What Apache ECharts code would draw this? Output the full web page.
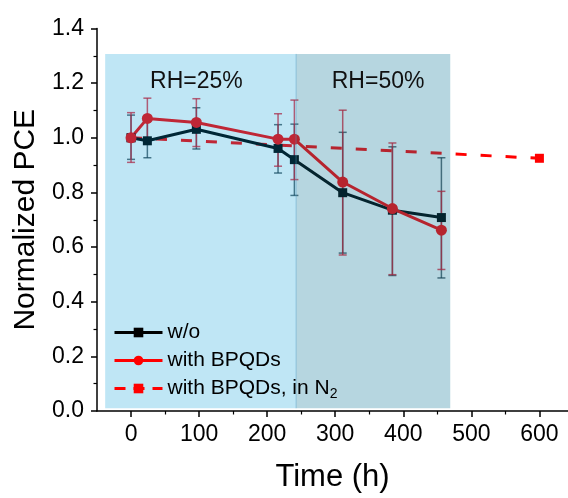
<!DOCTYPE html>
<html><head><meta charset="utf-8">
<script src="https://cdn.jsdelivr.net/npm/echarts@6/dist/echarts.min.js"></script>
<style>html,body{margin:0;padding:0;background:#fff}#c{width:568px;height:498px}</style>
</head><body><div id="c"></div>
<script>
// ---- data ----
const timeW = [0, 24, 96, 216, 240, 311, 384, 456];
const pceW = [1.0, 0.989, 1.031, 0.961, 0.920, 0.799, 0.735, 0.708];
const errLowW = [0.921, 0.927, 0.959, 0.871, 0.789, 0.578, 0.496, 0.487];
const errHighW = [1.083, 1.061, 1.110, 1.048, 1.050, 1.020, 0.967, 0.927];

const timeQD = [0, 24, 96, 216, 240, 311, 384, 456];
const pceQD = [1.0, 1.071, 1.056, 0.995, 0.995, 0.838, 0.741, 0.662];
const errLowQD = [0.910, 0.997, 0.968, 0.896, 0.847, 0.571, 0.499, 0.518];
const errHighQD = [1.092, 1.145, 1.143, 1.088, 1.138, 1.101, 0.981, 0.804];

const timeN2 = [0, 600];
const pceN2 = [1.0, 0.925];

const bandStart = [-38, 242.5];
const bandEnd = [242.5, 469];
const bandLabels = ['RH=25%', 'RH=50%'];

const seriesNames = ['w/o', 'with BPQDs', 'with BPQDs, in N2'];
const xMajorTicks = [0, 100, 200, 300, 400, 500, 600];
const xMinorTicks = [50, 150, 250, 350, 450, 550];

// ---- styling / layout ----
const FONT = 'Liberation Sans, Arial, sans-serif';
const bandTop = 1.307, bandBottom = 0.01;
const bandLabelX = [96, 363], bandLabelY = 1.207;
const bandFill = ['rgba(0,155,215,0.25)', 'rgba(12,118,152,0.30)'];

function pairs(xs, ys) { return xs.map((x, i) => [x, ys[i]]); }
function errData(xs, lo, hi) { return xs.map((x, i) => [x, lo[i], hi[i]]); }

function errSeries(xs, lo, hi, color) {
  return {
    type: 'custom', z: 2, silent: true,
    encode: { x: 0, y: [1, 2] },
    data: errData(xs, lo, hi),
    renderItem: function (params, api) {
      const x = api.value(0);
      const pl = api.coord([x, api.value(1)]);
      const ph = api.coord([x, api.value(2)]);
      const w = 4;
      const st = { stroke: color, lineWidth: 1.5 };
      return {
        type: 'group', children: [
          { type: 'line', shape: { x1: pl[0], y1: pl[1], x2: ph[0], y2: ph[1] }, style: st },
          { type: 'line', shape: { x1: pl[0] - w, y1: pl[1], x2: pl[0] + w, y2: pl[1] }, style: st },
          { type: 'line', shape: { x1: ph[0] - w, y1: ph[1], x2: ph[0] + w, y2: ph[1] }, style: st }
        ]
      };
    }
  };
}

const chart = echarts.init(document.getElementById('c'), null, { renderer: 'canvas' });
const option = {
  animation: false,
  backgroundColor: '#ffffff',
  textStyle: { fontFamily: FONT },
  grid: { left: 97, right: 0, top: 28.5, bottom: 84, containLabel: false },
  xAxis: [{
    type: 'value', min: -50, max: 642, position: 'bottom',
    name: 'Time (h)', nameLocation: 'middle', nameGap: 51,
    nameTextStyle: { fontSize: 31, color: '#000', fontFamily: FONT },
    axisLine: { show: true, onZero: false, lineStyle: { color: '#000', width: 1.5 } },
    axisTick: { show: true, inside: false, length: 6, lineStyle: { color: '#000', width: 1.5 }, customValues: xMajorTicks },
    axisLabel: { show: true, fontSize: 23, color: '#000', margin: 12, fontFamily: FONT, customValues: xMajorTicks },
    splitLine: { show: false }
  }, {
    type: 'value', min: -50, max: 642, position: 'bottom',
    axisLine: { show: false, onZero: false },
    axisTick: { show: true, inside: false, length: 3.5, lineStyle: { color: '#000', width: 1.2 }, customValues: xMinorTicks },
    axisLabel: { show: false },
    splitLine: { show: false }
  }],
  yAxis: {
    type: 'value', min: 0, max: 1.4, interval: 0.2,
    name: 'Normalized PCE', nameLocation: 'middle', nameGap: 55,
    nameTextStyle: { fontSize: 30, color: '#000', fontFamily: FONT },
    axisLine: { show: true, onZero: false, lineStyle: { color: '#000', width: 1.5 } },
    axisTick: { show: true, inside: false, length: 6, lineStyle: { color: '#000', width: 1.5 } },
    minorTick: { show: true, splitNumber: 2, length: 3.5, lineStyle: { color: '#000', width: 1.2 } },
    axisLabel: { fontSize: 23, color: '#000', margin: 13, fontFamily: FONT, formatter: v => v.toFixed(1) },
    splitLine: { show: false }
  },
  legend: {
    orient: 'vertical', left: 108, top: 317, z: 20,
    itemWidth: 48, itemHeight: 12, itemGap: 7,
    textStyle: {
      fontSize: 21, color: '#000', fontFamily: FONT,
      rich: { sub: { fontSize: 14, color: '#000', fontFamily: FONT, padding: [12, 0, 0, 0] } }
    },
    formatter: n => n === seriesNames[2] ? 'with BPQDs, in N{sub|2}' : n,
    data: [
      { name: seriesNames[0], lineStyle: { width: 3 } },
      { name: seriesNames[1], lineStyle: { width: 3 } },
      { name: seriesNames[2], lineStyle: { width: 3, type: [11, 8] } }
    ]
  },
  series: [
    errSeries(timeW, errLowW, errHighW, 'rgba(20,40,50,0.7)'),
    errSeries(timeQD, errLowQD, errHighQD, 'rgba(225,10,30,0.75)'),
    {
      name: seriesNames[2], type: 'line', z: 2,
      data: pairs(timeN2, pceN2),
      symbol: 'rect', symbolSize: 9,
      lineStyle: { color: '#ff0000', width: 3, type: [11, 14] },
      itemStyle: { color: '#ff0000' }
    },
    {
      name: seriesNames[0], type: 'line', z: 2,
      data: pairs(timeW, pceW),
      symbol: 'rect', symbolSize: 9,
      lineStyle: { color: '#000000', width: 3 },
      itemStyle: { color: '#000000' }
    },
    {
      name: seriesNames[1], type: 'line', z: 2,
      data: pairs(timeQD, pceQD),
      symbol: 'circle', symbolSize: 11,
      lineStyle: { color: '#ff0000', width: 3 },
      itemStyle: { color: '#ff0000' }
    },
    {
      type: 'custom', z: 5, silent: true,
      encode: { x: [0, 1], y: 2 },
      data: bandStart.map((s, i) => [s, bandEnd[i], bandTop]),
      renderItem: function (params, api) {
        const i = params.dataIndex;
        const p0 = api.coord([api.value(0), bandTop]);
        const p1 = api.coord([api.value(1), bandBottom]);
        const lp = api.coord([bandLabelX[i], bandLabelY]);
        const children = [
          { type: 'rect', shape: { x: p0[0], y: p0[1], width: p1[0] - p0[0], height: p1[1] - p0[1] }, style: { fill: bandFill[i] } },
          { type: 'text', x: lp[0], y: lp[1], style: { text: bandLabels[i], fill: '#111', font: '23px ' + FONT, align: 'center', verticalAlign: 'middle' } }
        ];
        if (i === 1) {
          children.splice(1, 0, { type: 'line', shape: { x1: p0[0], y1: p0[1], x2: p0[0], y2: p1[1] }, style: { stroke: 'rgba(80,160,200,0.45)', lineWidth: 1 } });
        }
        return { type: 'group', children: children };
      }
    }
  ]
};
chart.setOption(option);
</script>
</body></html>
